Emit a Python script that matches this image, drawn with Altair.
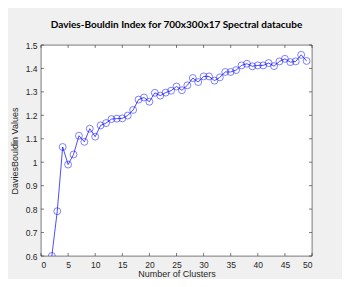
import altair as alt
import pandas as pd

clusters = list(range(2, 50))
db_values = [0.600, 0.791, 1.065, 0.990, 1.033, 1.113, 1.087, 1.143, 1.109, 1.157,
             1.167, 1.184, 1.186, 1.187, 1.199, 1.223, 1.267, 1.276, 1.258, 1.296,
             1.284, 1.297, 1.305, 1.323, 1.307, 1.328, 1.359, 1.342, 1.366, 1.366,
             1.348, 1.362, 1.385, 1.385, 1.393, 1.413, 1.420, 1.409, 1.413, 1.413,
             1.423, 1.410, 1.430, 1.441, 1.427, 1.430, 1.458, 1.432]
x_ticks = [0, 5, 10, 15, 20, 25, 30, 35, 40, 45, 50]
y_ticks = [0.6, 0.7, 0.8, 0.9, 1.0, 1.1, 1.2, 1.3, 1.4, 1.5]

W, H = 271, 211
AX = "#262626"
BLUE = "#0000FF"

df = pd.DataFrame({"k": clusters, "v": db_values})
xt = pd.DataFrame({"k": x_ticks})
yt = pd.DataFrame({"v": y_ticks})

X = alt.X("k:Q", title="Number of Clusters",
          scale=alt.Scale(domain=[0, 50], nice=False, zero=False),
          axis=alt.Axis(values=x_ticks, ticks=False, grid=False, labelPadding=4,
                        titlePadding=1, domain=False))
Y = alt.Y("v:Q", title="DaviesBouldin Values",
          scale=alt.Scale(domain=[0.6, 1.5], nice=False, zero=False),
          axis=alt.Axis(values=y_ticks, format="~g", ticks=False, grid=False,
                        labelPadding=4, titlePadding=6, domain=False))

line = alt.Chart(df).mark_line(color=BLUE, strokeWidth=0.7).encode(x=X, y=Y)
pts = alt.Chart(df).mark_point(shape="circle", size=48, filled=False, color=BLUE,
                               strokeWidth=0.7, clip=True).encode(x=X, y=Y)

tick_len = 3
xb = alt.Chart(xt).mark_rule(color=AX, strokeWidth=0.6).encode(
    x=X, y=alt.value(H), y2=alt.value(H - tick_len))
xtop = alt.Chart(xt).mark_rule(color=AX, strokeWidth=0.6).encode(
    x=X, y=alt.value(0), y2=alt.value(tick_len))
yl = alt.Chart(yt).mark_rule(color=AX, strokeWidth=0.6).encode(
    y=Y, x=alt.value(0), x2=alt.value(tick_len))
yr = alt.Chart(yt).mark_rule(color=AX, strokeWidth=0.6).encode(
    y=Y, x=alt.value(W), x2=alt.value(W - tick_len))

chart = alt.layer(line, pts, xb, xtop, yl, yr).properties(
    width=W, height=H,
    title=alt.Title("Davies-Bouldin Index for 700x300x17 Spectral datacube",
                    font="Lato", fontSize=10, fontWeight="bold", color="#000000",
                    offset=11, anchor="middle"),
    autosize="none",
    padding={"left": 33, "top": 37, "right": 30, "bottom": 23},
).configure(background="#F0F0F0").configure_view(
    fill="white", stroke=AX, strokeWidth=0.6
).configure_axis(
    labelFont="Liberation Sans", labelFontSize=8.5, labelColor=AX,
    titleFont="Liberation Sans", titleFontSize=9, titleColor=AX, titleFontWeight="normal"
)

chart.save("out.html", embed_options={"renderer": "svg", "actions": False})
